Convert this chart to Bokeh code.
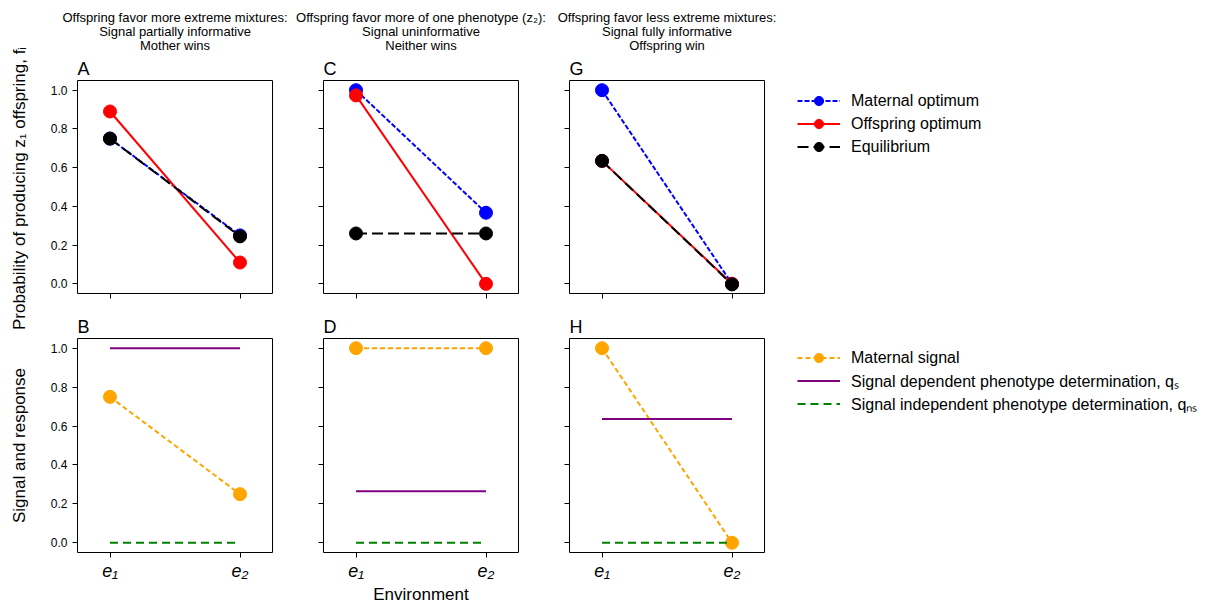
import math
from bokeh.plotting import figure
from bokeh.models import Range1d, FixedTicker, Legend, LegendItem, Label
from bokeh.layouts import row, column
from bokeh.embed import file_html
from bokeh.resources import INLINE

FONT = "Liberation Sans"

env_x = [0, 1]
env_labels = ["e₁", "e₂"]
y_ticks = [0.0, 0.2, 0.4, 0.6, 0.8, 1.0]

header_lines = [
    ["Offspring favor more extreme mixtures:", "Signal partially informative", "Mother wins"],
    ["Offspring favor more of one phenotype (z₂):", "Signal uninformative", "Neither wins"],
    ["Offspring favor less extreme mixtures:", "Signal fully informative", "Offspring win"],
]
ylabel_top = "Probability of producing z₁ offspring, fᵢ"
ylabel_bottom = "Signal and response"
xlabel = "Environment"
top_legend_labels = ["Maternal optimum", "Offspring optimum", "Equilibrium"]
bottom_legend_labels = ["Maternal signal",
                        "Signal dependent phenotype determination, qₛ",
                        "Signal independent phenotype determination, qₙₛ"]

# Top row: probability of producing z1 offspring
A_maternal = [0.75, 0.25]
A_offspring = [0.89, 0.11]
A_equilibrium = [0.75, 0.245]
C_maternal = [1.0, 0.367]
C_offspring = [0.973, 0.0]
C_equilibrium = [0.26, 0.26]
G_maternal = [1.0, 0.0]
G_offspring = [0.635, 0.0]
G_equilibrium = [0.635, -0.003]

# Bottom row: signal and response
B_signal = [0.75, 0.25]
B_qS = [1.0, 1.0]
B_qNS = [0.0, 0.0]
D_signal = [1.0, 1.0]
D_qS = [0.265, 0.265]
D_qNS = [0.0, 0.0]
H_signal = [1.0, 0.0]
H_qS = [0.636, 0.636]
H_qNS = [0.0, 0.0]

FRAME_W = 195
FRAME_H = 214
STRIP_W = 30
HEADER_H = 55
TOP_T, TOP_B = 24, 15
BOT_T, BOT_B = 30, 54
LEG_W = 440
TOP_H = TOP_T + FRAME_H + TOP_B
BOT_H = BOT_T + FRAME_H + BOT_B
TOTAL_H = HEADER_H + TOP_H + BOT_H


def hide_labels(ax):
    ax.major_label_overrides = {t: "" for t in (env_x + y_ticks)}
    ax.major_label_text_font_size = "1px"
    ax.major_label_text_color = None
    ax.major_label_standoff = 0


def make_panel(letter, left, right, top, bottom, show_ylabels, bottom_row, xlab=None):
    p = figure(width=left + FRAME_W + right, height=top + FRAME_H + bottom,
               x_range=Range1d(-0.25, 1.25), y_range=Range1d(-0.05, 1.05),
               output_backend="svg", toolbar_location=None,
               min_border_left=left, min_border_right=right,
               min_border_top=top, min_border_bottom=bottom)
    p.grid.visible = False
    p.outline_line_color = "black"
    p.outline_line_width = 1
    p.outline_line_alpha = 1
    p.title.text = letter
    p.title.text_font = FONT
    p.title.text_font_size = "18px"
    p.title.text_font_style = "normal"
    p.title.text_color = "black"
    p.title.align = "left"
    p.title.standoff = 3
    for ax in (p.xaxis[0], p.yaxis[0]):
        ax.axis_line_color = None
        ax.major_tick_out = 5
        ax.major_tick_in = 0
        ax.major_tick_line_color = "black"
        ax.minor_tick_line_color = None
        ax.major_label_text_font = FONT
        ax.major_label_text_color = "black"
        ax.axis_label_text_font = FONT
        ax.axis_label_text_font_style = "normal"
        ax.axis_label_text_color = "black"
        ax.axis_label_text_font_size = "17px"
    p.xaxis.ticker = FixedTicker(ticks=env_x)
    p.yaxis.ticker = FixedTicker(ticks=y_ticks)
    if show_ylabels:
        p.yaxis.major_label_text_font_size = "12px"
        p.yaxis.major_label_overrides = {t: f"{t:.1f}" for t in y_ticks}
        p.yaxis.major_label_standoff = 5
    else:
        hide_labels(p.yaxis[0])
    if bottom_row:
        p.xaxis.major_label_overrides = {x: l for x, l in zip(env_x, env_labels)}
        p.xaxis.major_label_text_font_size = "18px"
        p.xaxis.major_label_text_font_style = "italic"
        p.xaxis.major_label_standoff = 3
    else:
        hide_labels(p.xaxis[0])
    if xlab:
        p.xaxis.axis_label = xlab
        p.xaxis.axis_label_standoff = 1
    return p


def top_series(p, maternal, offspring, equilibrium):
    r1 = p.line(env_x, maternal, line_color="blue", line_width=2, line_dash="5 2")
    s1 = p.scatter(env_x, maternal, size=13, fill_color="blue", line_color="blue")
    r2 = p.line(env_x, offspring, line_color="red", line_width=2)
    s2 = p.scatter(env_x, offspring, size=13, fill_color="red", line_color="red")
    r3 = p.line(env_x, equilibrium, line_color="black", line_width=2, line_dash="11 5")
    s3 = p.scatter(env_x, equilibrium, size=13, fill_color="black", line_color="black")
    return [[r1, s1], [r2, s2], [r3, s3]]


def bottom_series(p, signal, qS, qNS):
    r1 = p.line(env_x, signal, line_color="orange", line_width=2, line_dash="5 3")
    s1 = p.scatter(env_x, signal, size=13, fill_color="orange", line_color="orange")
    r2 = p.line(env_x, qS, line_color="purple", line_width=2)
    r3 = p.line(env_x, qNS, line_color="green", line_width=2, line_dash="8 5")
    return [[r1, s1], [r2], [r3]]


def text_strip(width, height):
    s = figure(width=width, height=height, output_backend="svg", toolbar_location=None,
               x_axis_location=None, y_axis_location=None, title=None,
               min_border=0, min_border_left=0, min_border_right=0,
               min_border_top=0, min_border_bottom=0,
               x_range=Range1d(-0.25, 1.25), y_range=Range1d(-0.05, 1.05))
    s.grid.visible = False
    s.outline_line_color = None
    return s


def legend_fig(height, labels, builder, series, loc):
    f = text_strip(LEG_W, height)
    rs = builder(f, *series)
    for group in rs:
        for r in group:
            r.visible = False
    leg = Legend(items=[LegendItem(label=l, renderers=r) for l, r in zip(labels, rs)],
                 location=loc)
    leg.border_line_color = None
    leg.background_fill_alpha = 0
    leg.inactive_fill_alpha = 0
    leg.label_text_font = FONT
    leg.label_text_font_size = "16px"
    leg.label_text_color = "black"
    leg.glyph_width = 43
    leg.glyph_height = 23
    leg.label_height = 23
    leg.spacing = 0
    leg.padding = 0
    leg.margin = 0
    leg.label_standoff = 11
    f.add_layout(leg)
    return f


# Header strip with the three column headings
header = text_strip(1184, HEADER_H)
col_centers = [174.5 - STRIP_W, 420.5 - STRIP_W, 666.5 - STRIP_W]
line_y = [HEADER_H - 17, HEADER_H - 31, HEADER_H - 45]
for cx, lines in zip(col_centers, header_lines):
    for ly, txt in zip(line_y, lines):
        header.add_layout(Label(x=cx, y=ly, x_units="screen", y_units="screen", text=txt,
                                text_font=FONT, text_font_size="13px", text_color="black",
                                text_align="center", text_baseline="middle"))

# Left strip with the y-axis titles
ystrip = text_strip(STRIP_W, TOTAL_H)
for ylab, yc in ((ylabel_top, 188), (ylabel_bottom, 445)):
    ystrip.add_layout(Label(x=19, y=TOTAL_H - yc, x_units="screen", y_units="screen",
                            text=ylab, angle=math.pi / 2, text_font=FONT,
                            text_font_size="17px", text_color="black",
                            text_align="center", text_baseline="middle"))

pA = make_panel("A", 77 - STRIP_W, 10, TOP_T, TOP_B, True, False)
pC = make_panel("C", 41, 10, TOP_T, TOP_B, False, False)
pG = make_panel("G", 41, 10, TOP_T, TOP_B, False, False)
top_series(pA, A_maternal, A_offspring, A_equilibrium)
top_series(pC, C_maternal, C_offspring, C_equilibrium)
top_series(pG, G_maternal, G_offspring, G_equilibrium)
legTop = legend_fig(TOP_H, top_legend_labels, top_series,
                    (G_maternal, G_offspring, G_equilibrium), (23, 135))

pB = make_panel("B", 77 - STRIP_W, 10, BOT_T, BOT_B, True, True)
pD = make_panel("D", 41, 10, BOT_T, BOT_B, False, True, xlab=xlabel)
pH = make_panel("H", 41, 10, BOT_T, BOT_B, False, True)
bottom_series(pB, B_signal, B_qS, B_qNS)
bottom_series(pD, D_signal, D_qS, D_qNS)
bottom_series(pH, H_signal, H_qS, H_qNS)
legBot = legend_fig(BOT_H, bottom_legend_labels, bottom_series,
                    (H_signal, H_qS, H_qNS), (23, 137))

layout = row(ystrip, column(header, row(pA, pC, pG, legTop), row(pB, pD, pH, legBot)))
open("out.html", "w").write(file_html(layout, INLINE))
